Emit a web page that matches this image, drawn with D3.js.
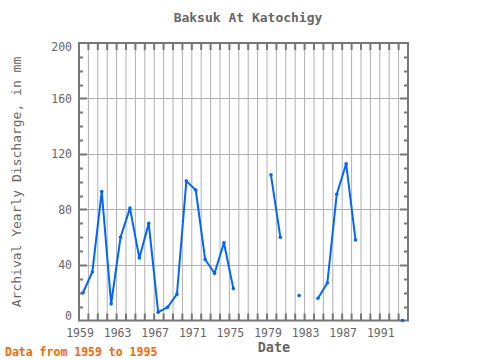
<!DOCTYPE html>
<html>
<head>
<meta charset="utf-8">
<script src="https://cdn.jsdelivr.net/npm/d3@7"></script>
<style>
  body { margin: 0; background: #fff; }
  svg text { font-family: "DejaVu Sans Mono", monospace; }
</style>
</head>
<body>
<svg id="chart" width="480" height="360"></svg>
<script>
// Data
const years = [1959, 1960, 1961, 1962, 1963, 1964, 1965, 1966, 1967, 1968, 1969, 1970,
    1971, 1972, 1973, 1974, 1975, 1976, 1977, 1978, 1979, 1980, 1981, 1982, 1983,
    1984, 1985, 1986, 1987, 1988, 1989, 1990, 1991, 1992, 1993];
const discharge = [20, 35, 93, 12, 60, 81, 45, 70, 6, 9.5, 19, 100.5,
    94, 44, 34, 56, 23, null, null, null, 105, 60, null, 18, null,
    16, 27, 91, 113, 58, null, null, null, null, 0];
const yTicks = [0, 40, 80, 120, 160, 200];
const xTickLabels = [1959, 1963, 1967, 1971, 1975, 1979, 1983, 1987, 1991];

const svg = d3.select("#chart");
const m = { left: 79, right: 408, top: 43, bottom: 320.5 };

const x = d3.scaleLinear().domain([1959, 1994]).range([m.left, m.right]);
const y = d3.scaleLinear().domain([0, 200]).range([m.bottom, m.top]);

const axisCol = "#777";
const gridCol = "#b0b0b0";
const textCol = "#666";

// Grid
const g = svg.append("g");
g.selectAll(".vg").data(d3.range(1960, 1994)).enter().append("line")
    .attr("x1", d => x(d)).attr("x2", d => x(d))
    .attr("y1", m.top).attr("y2", m.bottom)
    .attr("stroke", gridCol).attr("stroke-width", 1);
g.selectAll(".hg").data(yTicks.slice(1, -1)).enter().append("line")
    .attr("x1", m.left).attr("x2", m.right)
    .attr("y1", d => Math.round(y(d)) + 0.5).attr("y2", d => Math.round(y(d)) + 0.5)
    .attr("stroke", gridCol).attr("stroke-width", 1);

// Year ticks, top and bottom, inward
const yrs = d3.range(1960, 1994);
g.selectAll(".tb").data(yrs).enter().append("line")
    .attr("x1", d => x(d)).attr("x2", d => x(d))
    .attr("y1", m.bottom).attr("y2", m.bottom - 7)
    .attr("stroke", axisCol).attr("stroke-width", 2);
g.selectAll(".tt").data(yrs).enter().append("line")
    .attr("x1", d => x(d)).attr("x2", d => x(d))
    .attr("y1", m.top).attr("y2", m.top + 7)
    .attr("stroke", axisCol).attr("stroke-width", 2);

// Minor y ticks every 10, left and right, inward
const minor = d3.range(10, 200, 10);
g.selectAll(".tl").data(minor).enter().append("line")
    .attr("x1", m.left - (0)).attr("x2", d => m.left + (d % 40 === 0 ? 8 : 4))
    .attr("y1", d => Math.round(y(d)) + 0.5).attr("y2", d => Math.round(y(d)) + 0.5)
    .attr("stroke", axisCol).attr("stroke-width", 2);
g.selectAll(".tr").data(minor).enter().append("line")
    .attr("x1", m.right).attr("x2", d => m.right - (d % 40 === 0 ? 8 : 4))
    .attr("y1", d => Math.round(y(d)) + 0.5).attr("y2", d => Math.round(y(d)) + 0.5)
    .attr("stroke", axisCol).attr("stroke-width", 2);

// Frame
svg.append("rect")
    .attr("x", m.left).attr("y", m.top)
    .attr("width", m.right - m.left).attr("height", m.bottom - m.top)
    .attr("fill", "none").attr("stroke", axisCol).attr("stroke-width", 2);

// Tick labels
svg.selectAll(".yl").data(yTicks).enter().append("text")
    .attr("x", 72).attr("y", d => Math.min(320, Math.max(51, y(d) + 4)))
    .attr("text-anchor", "end").attr("font-size", 11.5).attr("fill", textCol)
    .text(d => d);
svg.selectAll(".xl").data(xTickLabels).enter().append("text")
    .attr("x", d => x(d) + 1).attr("y", 337)
    .attr("text-anchor", "middle").attr("font-size", 11.5).attr("fill", textCol)
    .text(d => d);

// Line
const pts = years.map((yr, i) => ({ t: yr + 0.42, v: discharge[i] }));
const line = d3.line().defined(d => d.v !== null).x(d => x(d.t)).y(d => y(d.v));
svg.append("path").datum(pts)
    .attr("d", line).attr("fill", "none")
    .attr("stroke", "#0066ff").attr("stroke-width", 2);
// isolated / end points
svg.selectAll(".pt").data(pts.filter(d => d.v !== null)).enter().append("circle")
    .attr("cx", d => x(d.t)).attr("cy", d => y(d.v)).attr("r", 1.8)
    .attr("fill", "#0066ff");

// Titles
svg.append("text").attr("x", 248).attr("y", 22).attr("text-anchor", "middle")
    .attr("font-size", 13).attr("font-weight", "bold").attr("fill", textCol)
    .text("Baksuk At Katochigy");
svg.append("text").attr("x", 274).attr("y", 352).attr("text-anchor", "middle")
    .attr("font-size", 13.5).attr("font-weight", "bold").attr("fill", textCol)
    .text("Date");
svg.append("text").attr("transform", "translate(21,182) rotate(-90)")
    .attr("text-anchor", "middle").attr("font-size", 13).attr("fill", textCol)
    .text("Archival Yearly Discharge, in mm");
svg.append("text").attr("x", 5).attr("y", 356)
    .attr("font-size", 11.5).attr("font-weight", "bold").attr("fill", "#ff6600")
    .text("Data from 1959 to 1995");
</script>
</body>
</html>
